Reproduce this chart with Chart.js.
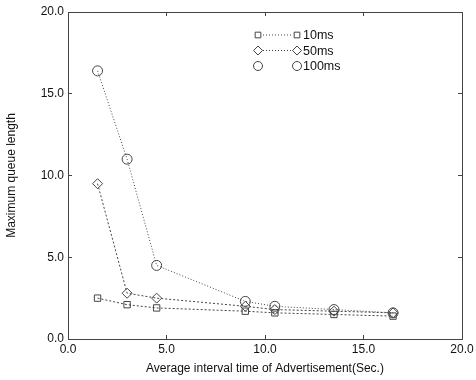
<!DOCTYPE html>
<html>
<head>
<meta charset="utf-8">
<script src="https://cdn.jsdelivr.net/npm/chart.js@4.4.1/dist/chart.umd.min.js"></script>
<style>
  html, body { margin: 0; padding: 0; background: #fff; }
  #wrap { width: 476px; height: 380px; }
</style>
</head>
<body>
<div id="wrap"><canvas id="grafico" width="476" height="380"></canvas></div>
<script>
// dados
const intervalos = [1.5, 3.0, 4.5, 9.0, 10.5, 13.5, 16.5];
const fila10ms = [2.5, 2.1, 1.9, 1.7, 1.6, 1.5, 1.4];
const fila50ms = [9.5, 2.8, 2.5, 2.0, 1.8, 1.7, 1.6];
const fila100ms = [16.4, 11.0, 4.5, 2.3, 2.0, 1.8, 1.6];
const rotulos = ["10ms", "50ms", "100ms"];
const ticksEixo = [0, 5, 10, 15, 20];

const FONTE = "'Liberation Sans', Arial, sans-serif";
const COR = "#444";

function pontos(ys) {
  return intervalos.map((x, i) => ({ x: x, y: ys[i] }));
}

const estilos = [
  { dados: fila10ms, ponto: "rect", raio: 4.5, traco: [2, 2] },
  { dados: fila50ms, ponto: "rectRot", raio: 5, traco: [2, 2] },
  { dados: fila100ms, ponto: "circle", raio: 5, traco: [1, 2] }
];

const datasets = estilos.map((e, i) => ({
  label: rotulos[i],
  data: pontos(e.dados),
  borderColor: COR,
  borderWidth: 1,
  borderDash: e.traco,
  pointStyle: e.ponto,
  pointRadius: e.raio,
  pointBorderColor: COR,
  pointBackgroundColor: "rgba(255,255,255,0)",
  pointBorderWidth: 1,
  tension: 0
}));

// legenda desenhada à mão, dentro da área do gráfico
const legendaPlugin = {
  id: "legendaManual",
  afterDraw(chart) {
    const ctx = chart.ctx;
    const x1 = 258, x2 = 297;
    estilos.forEach((e, i) => {
      const y = 35 + i * 15.5;
      ctx.save();
      ctx.strokeStyle = COR;
      ctx.fillStyle = "rgba(255,255,255,0)";
      ctx.lineWidth = 1;
      if (i < 2) {
        ctx.setLineDash([1, 2]);
        ctx.beginPath();
        ctx.moveTo(x1 + 5, y);
        ctx.lineTo(x2 - 5, y);
        ctx.stroke();
      }
      ctx.setLineDash([]);
      [x1, x2].forEach(px => {
        Chart.helpers.drawPoint(ctx, {
          pointStyle: e.ponto, radius: e.raio - 0.5, borderWidth: 1
        }, px, y);
      });
      ctx.fillStyle = "#111";
      ctx.font = "12.5px " + FONTE;
      ctx.textBaseline = "middle";
      ctx.fillText(rotulos[i], x2 + 6, y + 1);
      ctx.restore();
    });
  }
};

const fmt = v => Number(v).toFixed(1);

const eixoComum = {
  type: "linear",
  min: 0,
  max: 20,
  afterBuildTicks: s => { s.ticks = ticksEixo.map(v => ({ value: v })); },
  grid: {
    drawOnChartArea: false,
    drawTicks: true,
    tickLength: -4,
    tickColor: COR
  },
  border: { display: true, color: COR, dash: [1, 1], width: 1 }
};

// zera o espaço extra que o Chart.js reserva para os rótulos das pontas
function semSobra(s) {
  s.paddingLeft = 0; s.paddingRight = 0;
  s.paddingTop = 0; s.paddingBottom = 0;
}

new Chart(document.getElementById("grafico"), {
  type: "line",
  data: { datasets },
  options: {
    responsive: false,
    animation: false,
    layout: { padding: 0 },
    plugins: { legend: { display: false }, tooltip: { enabled: false } },
    scales: {
      x: Object.assign({}, eixoComum, {
        position: "bottom",
        afterFit: s => { s.height = 41; semSobra(s); },
        ticks: { color: "#111", font: { size: 12, family: FONTE }, padding: 7, callback: fmt, maxRotation: 0 },
        title: {
          display: true, text: "Average interval time of Advertisement(Sec.)",
          color: "#111", font: { size: 12, family: FONTE }, padding: { top: 0 }
        }
      }),
      y: Object.assign({}, eixoComum, {
        position: "left",
        afterFit: s => { s.width = 68; semSobra(s); },
        ticks: { color: "#111", font: { size: 12, family: FONTE }, padding: 8, callback: fmt },
        title: {
          display: true, text: "Maximum queue length",
          color: "#111", font: { size: 12, family: FONTE }, padding: { bottom: 0 }
        }
      }),
      xTopo: Object.assign({}, eixoComum, {
        position: "top",
        afterFit: s => { s.height = 12; semSobra(s); },
        ticks: { display: false }
      }),
      yDir: Object.assign({}, eixoComum, {
        position: "right",
        afterFit: s => { s.width = 14; semSobra(s); },
        ticks: { display: false }
      })
    }
  },
  plugins: [legendaPlugin]
});
</script>
</body>
</html>
